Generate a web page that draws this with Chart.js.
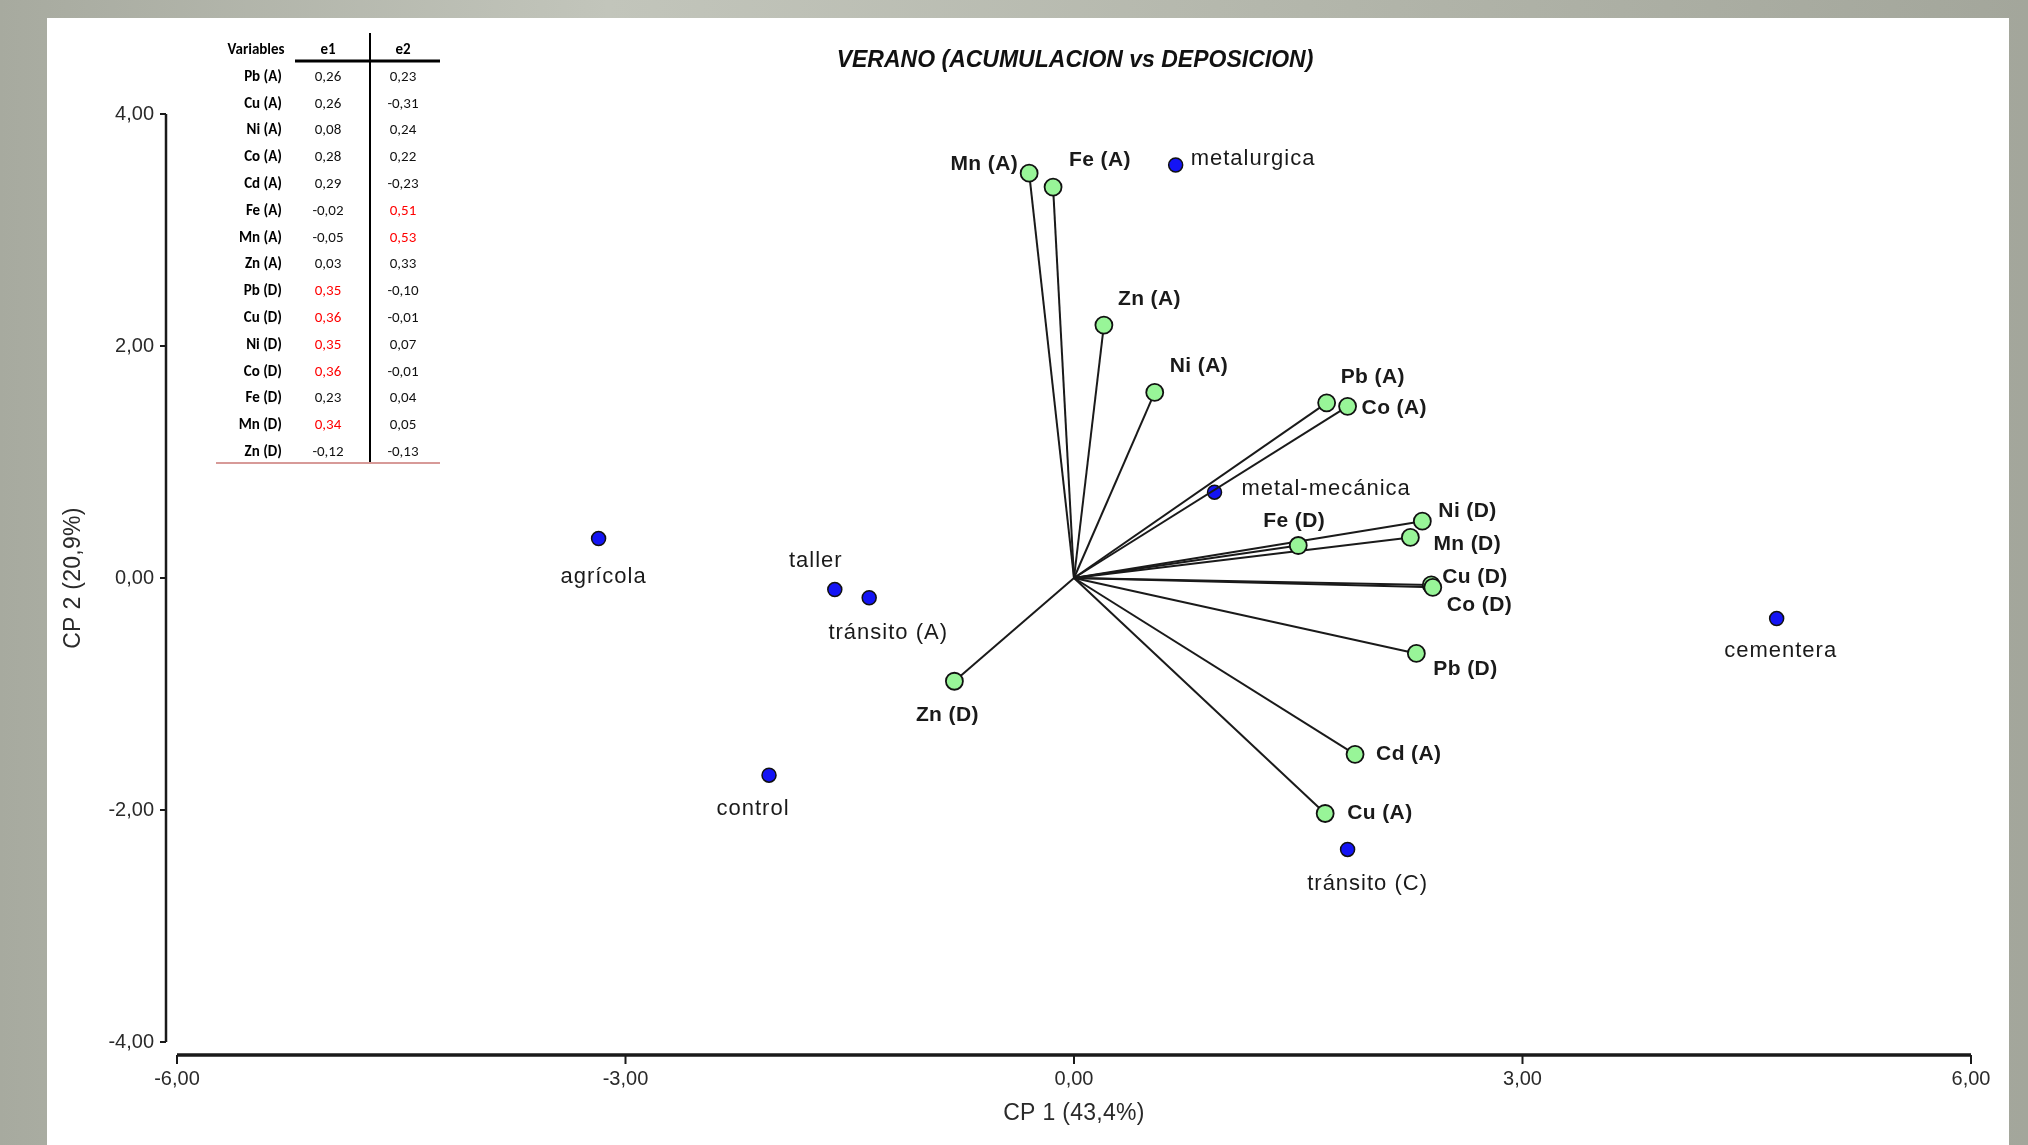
<!DOCTYPE html>
<html>
<head>
<meta charset="utf-8">
<script src="https://cdn.jsdelivr.net/npm/chart.js@4.4.1/dist/chart.umd.min.js"></script>
<style>
  html, body { margin: 0; padding: 0; background: #fff; overflow: hidden; }
  canvas { display: block; }
</style>
</head>
<body>
<canvas id="c" width="2028" height="1145"></canvas>
<script>
// variables (loadings, drawn as vectors from the origin)
const vecNames = ['Pb (A)', 'Cu (A)', 'Ni (A)', 'Co (A)', 'Cd (A)', 'Fe (A)', 'Mn (A)', 'Zn (A)',
                  'Pb (D)', 'Cu (D)', 'Ni (D)', 'Co (D)', 'Fe (D)', 'Mn (D)', 'Zn (D)'];
const vecX = [1.69, 1.68, 0.54, 1.83, 1.88, -0.14, -0.30, 0.20, 2.29, 2.39, 2.33, 2.40, 1.50, 2.25, -0.80];
const vecY = [1.51, -2.03, 1.60, 1.48, -1.52, 3.37, 3.49, 2.18, -0.65, -0.06, 0.49, -0.08, 0.28, 0.35, -0.89];

// sites (scores)
const siteNames = ['agrícola', 'taller', 'tránsito (A)', 'control', 'metal-mecánica', 'metalurgica', 'tránsito (C)', 'cementera'];
const siteX = [-3.18, -1.60, -1.37, -2.04, 0.94, 0.68, 1.83, 4.70];
const siteY = [0.34, -0.10, -0.17, -1.70, 0.74, 3.56, -2.34, -0.35];

// eigenvector table
const e1 = [0.26, 0.26, 0.08, 0.28, 0.29, -0.02, -0.05, 0.03, 0.35, 0.36, 0.35, 0.36, 0.23, 0.34, -0.12];
const e2 = [0.23, -0.31, 0.24, 0.22, -0.23, 0.51, 0.53, 0.33, -0.10, -0.01, 0.07, -0.01, 0.04, 0.05, -0.13];

const xTicks = [-6, -3, 0, 3, 6];
const yTicks = [-4, -2, 0, 2, 4];

// label placement: [dx, dy, align] in px from the point
const vecLabelPos = [[14,-26,'left'],[22,0,'left'],[15,-26,'left'],[14,2,'left'],[21,0,'left'],[16,-27,'left'],
                     [-11,-9,'right'],[14,-26,'left'],[17,16,'left'],[11,-8,'left'],[16,-10,'left'],[14,18,'left'],
                     [-4,-24,'center'],[23,7,'left'],[-7,34,'center']];
const siteLabelPos = [[5,38,'center'],[-19,-29,'center'],[19,35,'center'],[-16,34,'center'],
                      [27,-3,'left'],[15,-6,'left'],[20,34,'center'],[4,32,'center']];

const ARIAL = "Arial, 'Liberation Sans', sans-serif";
const NARROW = "Carlito, Calibri, 'Liberation Sans Narrow', 'Arial Narrow', sans-serif";
const fmt = v => v.toFixed(2).replace('.', ',');

const framePlugin = {
    id: 'frame',
    beforeDraw(chart) {
        const {ctx, width, height} = chart;
        ctx.save();
        const g = ctx.createLinearGradient(0, 0, width, 0);
        g.addColorStop(0, '#a7aa9f');
        g.addColorStop(0.3, '#c2c5bb');
        g.addColorStop(0.6, '#b5b8ad');
        g.addColorStop(1, '#a3a69b');
        ctx.fillStyle = g;
        ctx.fillRect(0, 0, width, height);
        ctx.fillStyle = '#ffffff';
        ctx.fillRect(47, 18, 1962, height - 18);
        ctx.restore();
    }
};

const axesPlugin = {
    id: 'axesDraw',
    afterDraw(chart) {
        const {ctx, chartArea, scales: {x, y}} = chart;
        ctx.save();
        ctx.strokeStyle = '#1a1a1a';
        ctx.fillStyle = '#2a2a2a';

        // y axis
        const ax = chartArea.left - 11;
        ctx.lineWidth = 2.5;
        ctx.beginPath();
        ctx.moveTo(ax, y.getPixelForValue(4));
        ctx.lineTo(ax, y.getPixelForValue(-4));
        ctx.stroke();
        ctx.font = '20px ' + ARIAL;
        ctx.textAlign = 'right';
        ctx.textBaseline = 'middle';
        yTicks.forEach(t => {
            const py = y.getPixelForValue(t);
            ctx.lineWidth = 2;
            ctx.beginPath(); ctx.moveTo(ax - 6, py); ctx.lineTo(ax, py); ctx.stroke();
            ctx.fillText(fmt(t), ax - 12, py);
        });

        // x axis
        const ay = chartArea.bottom + 13;
        ctx.lineWidth = 3.5;
        ctx.beginPath();
        ctx.moveTo(x.getPixelForValue(-6), ay);
        ctx.lineTo(x.getPixelForValue(6), ay);
        ctx.stroke();
        ctx.textAlign = 'center';
        xTicks.forEach(t => {
            const px = x.getPixelForValue(t);
            ctx.lineWidth = 2;
            ctx.beginPath(); ctx.moveTo(px, ay); ctx.lineTo(px, ay + 9); ctx.stroke();
            ctx.fillText(fmt(t), px, ay + 24);
        });

        // axis titles
        ctx.font = '23px ' + ARIAL;
        ctx.letterSpacing = '0.3px';
        ctx.fillText('CP 1 (43,4%)', x.getPixelForValue(0), 1114);
        ctx.save();
        ctx.translate(74, y.getPixelForValue(0));
        ctx.rotate(-Math.PI / 2);
        ctx.fillText('CP 2 (20,9%)', 0, 0);
        ctx.restore();
        ctx.letterSpacing = '0px';

        // title
        ctx.fillStyle = '#111';
        ctx.font = 'italic bold 23px ' + ARIAL;
        ctx.fillText('VERANO (ACUMULACION vs DEPOSICION)', 1075, 61);

        // table
        ctx.fillStyle = '#000';
        ctx.font = 'bold 15px ' + NARROW;
        ctx.textAlign = 'center';
        ctx.fillText('Variables', 256, 50);
        ctx.fillText('e1', 328, 50);
        ctx.fillText('e2', 403, 50);
        const rowY = i => 77 + i * 26.8;
        vecNames.forEach((n, i) => {
            ctx.font = 'bold 15px ' + NARROW;
            ctx.textAlign = 'right';
            ctx.fillStyle = '#000';
            ctx.fillText(n, 282, rowY(i));
            ctx.font = '15px ' + NARROW;
            ctx.textAlign = 'center';
            ctx.fillStyle = Math.abs(e1[i]) >= 0.34 ? '#ff0000' : '#111';
            ctx.fillText(fmt(e1[i]), 328, rowY(i));
            ctx.fillStyle = Math.abs(e2[i]) >= 0.34 ? '#ff0000' : '#111';
            ctx.fillText(fmt(e2[i]), 403, rowY(i));
        });
        ctx.strokeStyle = '#000';
        ctx.lineWidth = 3;
        ctx.beginPath(); ctx.moveTo(295, 61); ctx.lineTo(440, 61); ctx.stroke();
        ctx.lineWidth = 2;
        ctx.beginPath(); ctx.moveTo(370, 33); ctx.lineTo(370, 463); ctx.stroke();
        ctx.strokeStyle = '#d79a98';
        ctx.beginPath(); ctx.moveTo(216, 463); ctx.lineTo(440, 463); ctx.stroke();
        ctx.restore();
    }
};

const labelPlugin = {
    id: 'pointLabels',
    afterDatasetsDraw(chart) {
        const {ctx, scales: {x, y}} = chart;
        ctx.save();
        ctx.textBaseline = 'middle';
        ctx.fillStyle = '#1a1a1a';
        ctx.font = 'bold 21px ' + ARIAL;
        ctx.letterSpacing = '0.4px';
        vecNames.forEach((n, i) => {
            const [dx, dy, al] = vecLabelPos[i];
            ctx.textAlign = al;
            ctx.fillText(n, x.getPixelForValue(vecX[i]) + dx, y.getPixelForValue(vecY[i]) + dy);
        });
        ctx.font = '22px ' + ARIAL;
        ctx.letterSpacing = '1px';
        siteNames.forEach((n, i) => {
            const [dx, dy, al] = siteLabelPos[i];
            ctx.textAlign = al;
            ctx.fillText(n, x.getPixelForValue(siteX[i]) + dx, y.getPixelForValue(siteY[i]) + dy);
        });
        ctx.restore();
    }
};

const vectorSets = vecNames.map((n, i) => ({
    label: n,
    data: [{x: 0, y: 0}, {x: vecX[i], y: vecY[i]}],
    showLine: true,
    borderColor: '#1a1a1a',
    borderWidth: 2,
    pointRadius: 0,
    order: 2,
    clip: false
}));

const ctx = document.getElementById('c').getContext('2d');
new Chart(ctx, {
    type: 'scatter',
    plugins: [framePlugin, axesPlugin, labelPlugin],
    data: {
        datasets: [
            {
                label: 'sitios',
                data: siteX.map((v, i) => ({x: v, y: siteY[i]})),
                backgroundColor: '#1414f5',
                borderColor: '#111',
                borderWidth: 1.5,
                pointRadius: 7,
                order: 3,
                clip: false
            },
            ...vectorSets,
            {
                label: 'variables',
                data: vecX.map((v, i) => ({x: v, y: vecY[i]})),
                backgroundColor: '#98f598',
                borderColor: '#111',
                borderWidth: 1.8,
                pointRadius: 8.5,
                order: 1,
                clip: false
            }
        ]
    },
    options: {
        responsive: false,
        animation: false,
        layout: { padding: { left: 177, right: 57, top: 114, bottom: 103 } },
        scales: {
            x: { type: 'linear', min: -6, max: 6, display: false },
            y: { type: 'linear', min: -4, max: 4, display: false }
        },
        plugins: {
            legend: { display: false },
            tooltip: { enabled: false }
        }
    }
});
</script>
</body>
</html>
